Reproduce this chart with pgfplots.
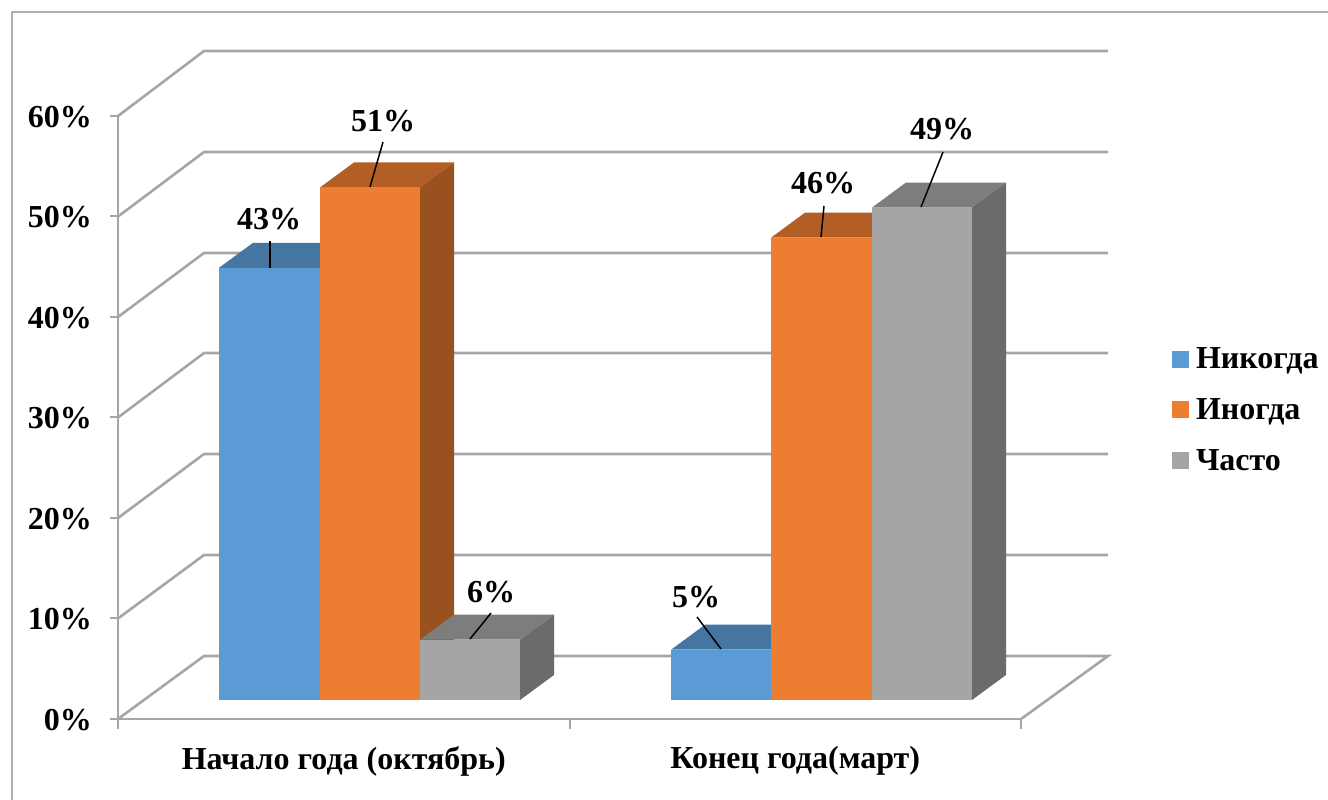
\documentclass[border=0pt]{standalone}
\usepackage{fontspec}
\setmainfont{Liberation Serif}
\usepackage{pgfplots}
\pgfplotsset{compat=1.18}
\definecolor{wall}{HTML}{A6A6A6}
\definecolor{frameg}{HTML}{B0B0B0}
\definecolor{cBlue}{HTML}{5B9BD5}
\definecolor{cBlueT}{HTML}{4575A1}
\definecolor{cOrange}{HTML}{ED7D31}
\definecolor{cOrangeT}{HTML}{B35E24}
\definecolor{cOrangeS}{HTML}{9A5120}
\definecolor{cGray}{HTML}{A5A5A5}
\definecolor{cGrayT}{HTML}{7D7D7D}
\definecolor{cGrayS}{HTML}{6B6B6B}
\pgfplotsset{
  page/.style={at={(0pt,0pt)},anchor=south west,scale only axis,width=1328pt,height=800pt,hide axis,xmin=0,xmax=1328},
  wl/.style={draw=wall,line width=2.6pt,no markers,forget plot},
  leader/.style={draw=black,line width=1.5pt,no markers,forget plot},
  poly/.style={draw=none,no markers,forget plot},
  bar3/.style={ybar,/pgf/bar width=100.5pt,/pgf/bar shift=0pt,draw=none},
}
\newcommand{\lbl}{\fontsize{32}{32}\selectfont\bfseries}
\begin{document}
\begin{tikzpicture}
\path[use as bounding box] (0pt,0pt) rectangle (1328pt,800pt);
% frame and back walls, pixel positions
\begin{axis}[page,ymin=0,ymax=800,y dir=reverse]
\addplot[draw=frameg,line width=2pt,no markers,forget plot] coordinates {(11.5,800)(11.5,12.5)(1328,12.5)};
\addplot[wl] coordinates {(118,719)(204,656)(1108,656)(1021,719)};
\addplot[wl] coordinates {(118,618.5)(204,555)(1108,555)};
\addplot[wl] coordinates {(118,518)(204,454)(1108,454)};
\addplot[wl] coordinates {(118,417.5)(204,353)(1108,353)};
\addplot[wl] coordinates {(118,317)(204,253)(1108,253)};
\addplot[wl] coordinates {(118,216.5)(204,152)(1108,152)};
\addplot[wl] coordinates {(118,116)(204,51)(1108,51)};
\end{axis}
% value axis and category axis on the front plane
\begin{axis}[
  at={(118pt,81pt)},anchor=south west,scale only axis,width=903pt,height=603pt,
  axis lines=left,axis line style={-,draw=wall,line width=2.6pt},
  xmin=-0.5,xmax=1.5,ymin=0,ymax=60,
  ytick={0,10,...,60},
  yticklabel={\pgfmathprintnumber{\tick}\%},
  /pgf/number format/assume math mode=true,
  xtick={0,1},xticklabels={Начало года (октябрь),Конец года(март)},
  minor xtick={-0.5,0.5,1.5},
  major x tick style={draw=none},
  minor x tick style={draw=wall,line width=2pt},
  major y tick style={draw=wall,line width=2pt},
  tick align=outside,major tick length=8pt,minor tick length=10pt,
  yticklabel style={font=\lbl,anchor=east,xshift=-18pt,yshift=-1pt,inner sep=0pt},
  xticklabel style={font=\lbl,anchor=center,yshift=-34pt,inner sep=0pt},
]
\addplot[draw=none,no markers,forget plot] coordinates {(0,0)(1,0)};
\end{axis}
% bars: x in pixels, y in percent above the floor line of the bars
\begin{axis}[page,ymin=-9.95,ymax=69.65,
  legend style={draw=none,fill=none,at={(1172/1328,0.4875)},anchor=west,font=\fontsize{32}{32}\selectfont\bfseries,/tikz/row sep=24.5pt,/tikz/column 1/.style={column sep=5pt},inner sep=0pt,outer sep=0pt},
  legend cell align=left,
  legend image code/.code={\fill[#1] (0pt,-8.5pt) rectangle (17pt,8.5pt);},
]
% Начало года: Никогда
\addplot[poly,fill=cBlueT] coordinates {(219,43)(253,45.49)(354,45.49)(320,43)};
\addplot[bar3,fill=cBlue] coordinates {(269.5,43)};\addlegendentry{Никогда}
% Иногда
\addplot[poly,fill=cOrangeT] coordinates {(320,51)(354,53.49)(454,53.49)(420,51)};
\addplot[poly,fill=cOrangeS] coordinates {(420,0)(454,2.49)(454,53.49)(420,51)};
\addplot[bar3,fill=cOrange] coordinates {(370,51)};\addlegendentry{Иногда}
% Часто
\addplot[poly,fill=cGrayT] coordinates {(420,6)(454,8.49)(554,8.49)(520,6)};
\addplot[poly,fill=cGrayS] coordinates {(520,0)(554,2.49)(554,8.49)(520,6)};
\addplot[bar3,fill=cGray] coordinates {(470,6)};\addlegendentry{Часто}
% Конец года
\addplot[poly,fill=cBlueT] coordinates {(671,5)(705,7.49)(805,7.49)(771,5)};
\addplot[bar3,fill=cBlue,forget plot] coordinates {(721,5)};
\addplot[poly,fill=cOrangeT] coordinates {(771,46)(805,48.49)(906,48.49)(872,46)};
\addplot[bar3,fill=cOrange,forget plot] coordinates {(821.5,46)};
\addplot[poly,fill=cGrayT] coordinates {(872,49)(906,51.49)(1006,51.49)(972,49)};
\addplot[poly,fill=cGrayS] coordinates {(972,0)(1006,2.49)(1006,51.49)(972,49)};
\addplot[bar3,fill=cGray,forget plot] coordinates {(922,49)};
\end{axis}
% data labels and leader lines
\begin{axis}[page,ymin=0,ymax=800,y dir=reverse]
\addplot[leader,line width=2pt] coordinates {(270,268)(270,241)};
\addplot[leader] coordinates {(370,187)(383,142)};
\addplot[leader] coordinates {(470,639)(491,613)};
\addplot[leader] coordinates {(721,649)(697,617)};
\addplot[leader] coordinates {(821,237)(824,206)};
\addplot[leader] coordinates {(921,207)(943,152)};
\node[font=\lbl,inner sep=0pt] at (axis cs:269,219) {43\%};
\node[font=\lbl,inner sep=0pt] at (axis cs:383,121) {51\%};
\node[font=\lbl,inner sep=0pt] at (axis cs:491,592) {6\%};
\node[font=\lbl,inner sep=0pt] at (axis cs:696,597) {5\%};
\node[font=\lbl,inner sep=0pt] at (axis cs:823,183) {46\%};
\node[font=\lbl,inner sep=0pt] at (axis cs:942,129) {49\%};
\end{axis}
\end{tikzpicture}
\end{document}
